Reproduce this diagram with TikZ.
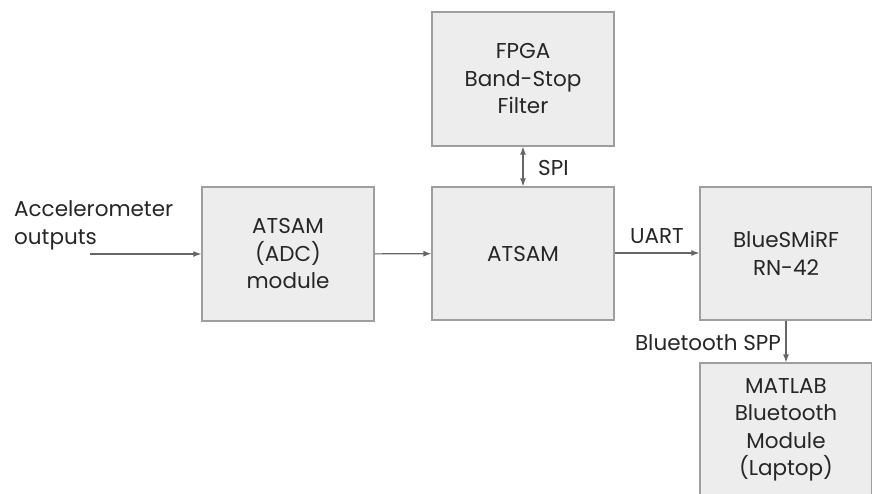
\documentclass[tikz,border=0pt]{standalone}
\usepackage{fontspec}
\setmainfont{Poppins}
\usetikzlibrary{positioning,arrows.meta}

\tikzset{
  block/.style={draw=black!38, fill=black!7, line width=1.3pt, align=center,
    font=\fontsize{21.5}{27.5}\selectfont, text=black!85, inner sep=0pt},
  link/.style={draw=black!60, line width=1.1pt, >={Latex[length=8pt,width=6pt]}},
  tag/.style={font=\fontsize{21.5}{27.5}\selectfont, text=black!85, inner sep=0pt}
}

\begin{document}
\begin{tikzpicture}[x=1pt,y=-1pt]
\useasboundingbox (0,0) rectangle (872,494);

\node[block, minimum width=182pt, minimum height=134pt] (fpga) at (523,79) {FPGA\\Band-Stop\\Filter};
\node[block, minimum width=182pt, minimum height=133pt] (atsam) at (523,253.5) {ATSAM};
\node[block, minimum width=172pt, minimum height=134pt] (adc) at (288,254) {ATSAM\\(ADC)\\module};
\node[block, minimum width=172pt, minimum height=133pt] (blue) at (786,253.5) {BlueSMiRF\\RN-42};
\node[block, minimum width=172pt, minimum height=134pt] (matlab) at (786,430) {MATLAB\\Bluetooth\\Module\\(Laptop)};

\coordinate (in) at (90,254);
\node[tag, align=left, anchor=south west] (acc) at (14,250) {Accelerometer\\outputs};

\draw[link,->] (in) -- (adc.west |- in);
\draw[link,->] (adc) -- (atsam);
\draw[link,<->] (fpga) -- (atsam);
\draw[link,->] (atsam.east |- 0,253) -- node[tag, above=9pt] (uart) {UART} (blue.west |- 0,253);
\draw[link,->] (blue) -- (matlab);

\node[tag, anchor=west] (spi) at (538,168) {SPI};
\node[tag, anchor=east] (spp) at (781,343) {Bluetooth SPP};
\end{tikzpicture}
\end{document}
